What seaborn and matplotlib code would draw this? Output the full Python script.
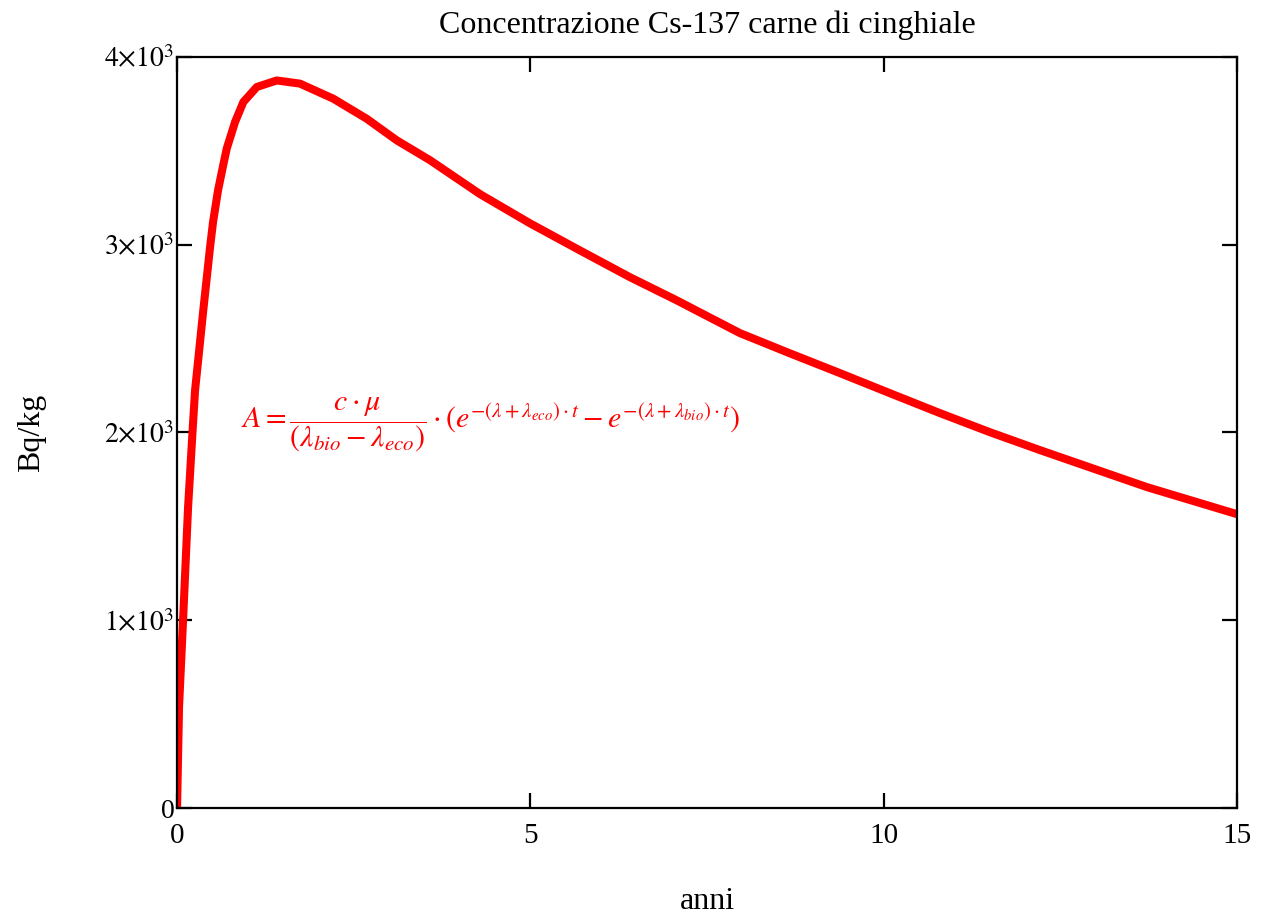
import matplotlib
matplotlib.use("Agg")
import matplotlib.pyplot as plt
import seaborn as sns
import pandas as pd

# values (anni -> Bq/kg)
anni = [0.0, 0.028, 0.085, 0.156, 0.226, 0.255, 0.311, 0.368, 0.467, 0.509,
        0.580, 0.651, 0.703, 0.821, 0.938, 1.128, 1.41, 1.74, 2.21, 2.684,
        3.109, 3.58, 4.29, 4.995, 5.70, 6.41, 7.07, 7.967, 8.67, 9.382,
        10.09, 10.797, 11.5, 12.212, 13.726, 15.0]
bq_kg = [0, 538, 1001, 1602, 2049, 2225, 2430, 2640, 2987, 3120,
         3290, 3420, 3512, 3654, 3760, 3840, 3875, 3858, 3778, 3671,
         3556, 3450, 3269, 3114, 2970, 2827, 2704, 2529, 2422, 2316,
         2209, 2103, 2002, 1906, 1709, 1565]

x_ticks = [0, 5, 10, 15]
x_labels = ["0", "5", "10", "15"]
y_ticks = [0, 1000, 2000, 3000, 4000]
y_labels = ["0", r"$1{\times}10^{3}$", r"$2{\times}10^{3}$", r"$3{\times}10^{3}$", r"$4{\times}10^{3}$"]

title = "Concentrazione Cs-137 carne di cinghiale"
formula = (r"$A=\dfrac{c\cdot\mu}{(\lambda_{bio}-\lambda_{eco})}\cdot"
           r"(e^{-(\lambda+\lambda_{eco})\cdot t}-e^{-(\lambda+\lambda_{bio})\cdot t})$")

df = pd.DataFrame({"anni": anni, "Bq/kg": bq_kg})

sns.set_style("ticks")
plt.rcParams["font.family"] = ["Liberation Serif", "DejaVu Serif"]
plt.rcParams["mathtext.fontset"] = "stix"
plt.rcParams["text.color"] = "black"
plt.rcParams["axes.labelcolor"] = "black"
plt.rcParams["xtick.color"] = "black"
plt.rcParams["ytick.color"] = "black"

fig = plt.figure(figsize=(12.62, 9.16), dpi=100)
ax = fig.add_axes([0.1403, 0.1179, 0.8399, 0.8199])

sns.lineplot(data=df, x="anni", y="Bq/kg", color="#ff0000", linewidth=5.8,
             solid_capstyle="butt", solid_joinstyle="round", ax=ax)

ax.set_xlim(0, 15)
ax.set_ylim(0, 4000)
ax.set_xticks(x_ticks)
ax.set_xticklabels(x_labels, fontsize=21)
ax.set_yticks(y_ticks)
ax.set_yticklabels(y_labels, fontsize=20)

for s in ax.spines.values():
    s.set_visible(True)
    s.set_linewidth(1.6)
    s.set_color("black")

ax.tick_params(axis="both", direction="in", length=11, width=1.6, colors="black",
               top=True, right=True)
ax.tick_params(axis="x", pad=11)
ax.tick_params(axis="y", pad=2)

ax.set_xlabel("anni", fontsize=23, va="center", color="black")
ax.xaxis.set_label_coords(0.5, -0.125)
ax.set_ylabel("Bq/kg", fontsize=23, va="center", color="black")
ax.yaxis.set_label_coords(-0.137, 0.5)
ax.set_title(title, fontsize=23, pad=17, color="black")

ax.text(4.43, 2040, formula, color="#ff0000", fontsize=21.5, ha="center", va="center")

fig.savefig("out.png", dpi=100)
